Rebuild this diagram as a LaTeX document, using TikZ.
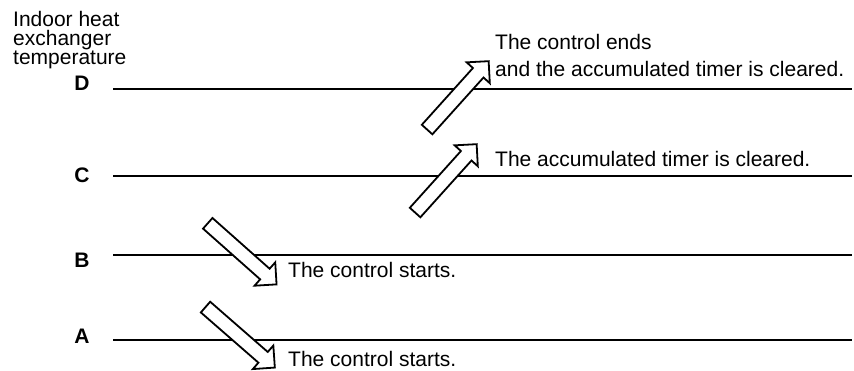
\documentclass[tikz,border=0pt]{standalone}
\usepackage{fontspec}
\setmainfont{Liberation Sans}
\usetikzlibrary{shapes.arrows}
\tikzset{
  level/.style  ={line width=1.7pt},
  lvl/.style    ={font=\fontsize{21}{22}\selectfont\bfseries,inner sep=0pt},
  note/.style   ={font=\fontsize{21}{27}\selectfont,inner sep=0pt,anchor=base west,align=left},
  hollow/.style ={draw,fill=white,line width=1.8pt,single arrow,single arrow tip angle=90,
                  single arrow head extend=8.5pt,minimum height=92pt,
                  inner xsep=0pt,inner ysep=6.2pt,text height=0pt,text depth=0pt},
}
\begin{document}
\begin{tikzpicture}[x=1pt,y=-1pt]
  \useasboundingbox (0,0) rectangle (854,371);
  \node[note,anchor=north west,font=\fontsize{21}{19}\selectfont] (axis) at (13,11)
    {Indoor heat\\exchanger\\temperature};
  % temperature levels
  \foreach \lv/\ly/\ty in {D/89/83,C/176/175,B/255/260,A/340/336}{
    \node[lvl] (lab\lv) at (82,\ty) {\lv};
    \coordinate (s\lv) at (113,\ly);
    \coordinate (e\lv) at (852,\ly);
    \draw[level] (s\lv) -- (e\lv);
  }
  % hollow arrows
  \node[hollow,rotate=48]    (upD)   at (455.5,98)   {};
  \node[hollow,rotate=48]    (upC)   at (443.5,181)  {};
  \node[hollow,rotate=-41.6] (downB) at (239.5,251.5) {};
  \node[hollow,rotate=-41.1] (downA) at (237.5,335)  {};
  % remarks
  \node[note] (endD)   at (495,77)  {The control ends\\and the accumulated timer is cleared.};
  \node[note] (clrC)   at (495,167) {The accumulated timer is cleared.};
  \node[note] (startB) at (288,278) {The control starts.};
  \node[note] (startA) at (288,366) {The control starts.};
\end{tikzpicture}
\end{document}
